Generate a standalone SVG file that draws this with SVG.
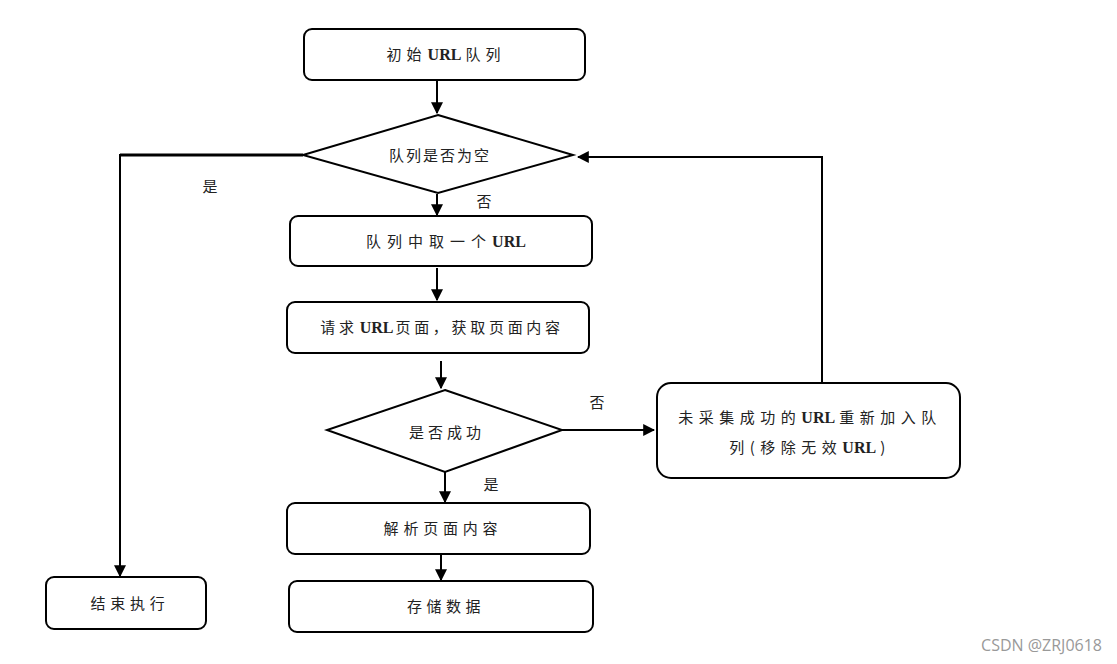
<svg xmlns="http://www.w3.org/2000/svg" width="1117" height="664" viewBox="0 0 1117 664">
<style>
.n{fill:#fff;stroke:#000;stroke-width:2}
.t{font-family:"Noto Sans CJK SC","Liberation Serif",sans-serif;font-size:15px;fill:#222;text-anchor:middle;letter-spacing:4.5px}
.u{font-family:"Liberation Serif",serif;font-weight:bold;font-size:16px;letter-spacing:0}
.c{fill:none;stroke:#000;stroke-width:2}
.l{font-family:"Noto Sans CJK SC",sans-serif;font-size:15px;fill:#222}
</style>
<defs>
<marker id="a" viewBox="0 0 10 10" refX="9" refY="5" markerWidth="6" markerHeight="6" orient="auto" markerUnits="strokeWidth">
<path d="M0,0 L10,5 L0,10 z" fill="#000"/>
</marker>
</defs>
<rect width="1117" height="664" fill="#fff"/>
<g id="connectors">
<line class="c" x1="437" y1="80" x2="437" y2="113" marker-end="url(#a)"/>
<line class="c" x1="437" y1="194" x2="437" y2="215" marker-end="url(#a)"/>
<line class="c" x1="437" y1="268" x2="437" y2="300" marker-end="url(#a)"/>
<line class="c" x1="441" y1="361" x2="441" y2="388" marker-end="url(#a)"/>
<line class="c" x1="445" y1="472" x2="445" y2="502" marker-end="url(#a)"/>
<line class="c" x1="441" y1="555" x2="441" y2="580" marker-end="url(#a)"/>
<line class="c" x1="562" y1="430" x2="654" y2="430" marker-end="url(#a)"/>
<polyline class="c" points="822,382 822,157 578,157" marker-end="url(#a)"/>
<polyline class="c" points="303,155 120,155 120,576" marker-end="url(#a)"/>
<line x1="120" y1="155" x2="303" y2="155" stroke="#000" stroke-width="3"/>
<text class="l" x="484" y="207" text-anchor="middle">否</text>
<text class="l" x="597" y="408" text-anchor="middle">否</text>
<text class="l" x="491" y="490" text-anchor="middle">是</text>
<text class="l" x="210" y="192" text-anchor="middle">是</text>
</g>
<g id="n1">
<rect class="n" x="304" y="29" width="281" height="51" rx="8"/>
<text class="t" x="446" y="60" style="letter-spacing:5px">初始<tspan class="u" dx="1">URL</tspan><tspan dx="4">队列</tspan></text>
</g>
<g id="n2">
<polygon class="n" points="438,115 573,155 438,193 303,155"/>
<text class="t" x="440" y="161" style="letter-spacing:2px">队列是否为空</text>
</g>
<g id="n3">
<rect class="n" x="290" y="216" width="302" height="50" rx="8"/>
<text class="t" x="446" y="247" style="letter-spacing:6px">队列中取一个<tspan class="u">URL</tspan></text>
</g>
<g id="n4">
<rect class="n" x="287" y="302" width="302" height="51" rx="8"/>
<text class="t" x="442" y="333" style="letter-spacing:3.7px">请求<tspan class="u" dx="2">URL</tspan><tspan dx="2">页面，获取页面内容</tspan></text>
</g>
<g id="n5">
<polygon class="n" points="445,390 562,430 445,472 327,430"/>
<text class="t" x="447" y="438" style="letter-spacing:4px">是否成功</text>
</g>
<g id="n6">
<rect class="n" x="657" y="383" width="303" height="95" rx="14"/>
<text class="t" x="810" y="423" style="letter-spacing:5.5px">未采集成功的<tspan class="u">URL</tspan><tspan dx="4">重新加入队</tspan></text>
<text class="t" x="810" y="453" style="letter-spacing:5.5px">列(移除无效<tspan class="u">URL</tspan><tspan dx="4">)</tspan></text>
</g>
<g id="n7">
<rect class="n" x="287" y="503" width="303" height="51" rx="8"/>
<text class="t" x="443" y="534" style="letter-spacing:4.8px">解析页面内容</text>
</g>
<g id="n8">
<rect class="n" x="289" y="581" width="304" height="51" rx="8"/>
<text class="t" x="446" y="612" style="letter-spacing:4.5px">存储数据</text>
</g>
<g id="n9">
<rect class="n" x="46" y="577" width="160" height="52" rx="8"/>
<text class="t" x="130" y="609" style="letter-spacing:4.7px">结束执行</text>
</g>
<text x="1102" y="651" font-family="Open Sans,sans-serif" font-size="16" fill="#999" text-anchor="end">CSDN @ZRJ0618</text>
</svg>
